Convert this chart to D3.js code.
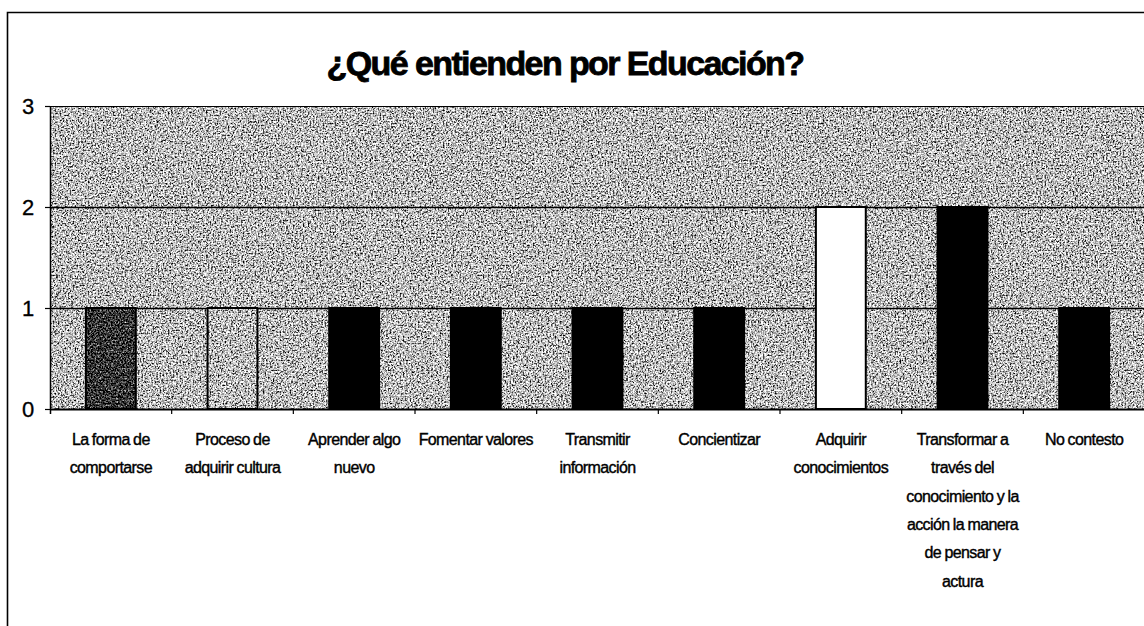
<!DOCTYPE html>
<html>
<head>
<meta charset="utf-8">
<script src="https://cdn.jsdelivr.net/npm/d3@7/dist/d3.min.js"></script>
<style>
  html, body { margin: 0; padding: 0; background: #fff; }
  svg { display: block; }
  text { font-family: "Liberation Sans", Arial, sans-serif; fill: #000; }
</style>
</head>
<body>
<svg id="chart" width="1144" height="626"></svg>
<script>
// ---- data ----
const title = "¿Qué entienden por Educación?";
const categories = [
  ["La forma de", "comportarse"],
  ["Proceso de", "adquirir cultura"],
  ["Aprender algo", "nuevo"],
  ["Fomentar valores"],
  ["Transmitir", "información"],
  ["Concientizar"],
  ["Adquirir", "conocimientos"],
  ["Transformar a", "través del", "conocimiento y la", "acción la manera", "de pensar y", "actura"],
  ["No contesto"]
];
const values = [1, 1, 1, 1, 1, 1, 2, 2, 1];
const yTicks = [0, 1, 2, 3];
// fill style per bar
const barStyles = ["dark", "bg", "black", "black", "speck", "black", "light", "black", "black"];

// ---- layout ----
const svg = d3.select("#chart");
const W = 1144, H = 626;
const plot = { left: 50, right: 1145, top: 106, bottom: 409 };

const defs = svg.append("defs");
function noiseFilter(id, table, freq, seed) {
  const f = defs.append("filter").attr("id", id)
    .attr("x", 0).attr("y", 0).attr("width", 1).attr("height", 1)
    .attr("filterUnits", "objectBoundingBox")
    .attr("color-interpolation-filters", "sRGB");
  f.append("feTurbulence").attr("type", "fractalNoise")
    .attr("baseFrequency", freq).attr("numOctaves", 2).attr("seed", seed).attr("result", "t");
  f.append("feColorMatrix").attr("type", "matrix")
    .attr("values", "1 0 0 0 0  1 0 0 0 0  1 0 0 0 0  0 0 0 0 1").attr("result", "g");
  const ct = f.append("feComponentTransfer").attr("in", "g");
  ["feFuncR", "feFuncG", "feFuncB"].forEach(fn =>
    ct.append(fn).attr("type", "discrete").attr("tableValues", table));
}
noiseFilter("nbg", "0 0 0.25 0.6 0.85 1 1 1", 0.6, 4);
noiseFilter("ndark", "0 0 0 0.2 0.45 0.7 1", 0.6, 7);
noiseFilter("nlight", "0.2 1 1 1 1 1 1 1 1 1 1 1 1 1 1 1 1 1 1 1 1 1 1 1", 0.9, 9);
noiseFilter("nspeck", "0 0 0 0 0 0 0 0 0 0 0 0 0 0 0 0 0 0 0 0 0 0 0 0.85", 0.9, 11);

// outer frame
svg.append("path")
  .attr("d", `M7.5,${H} L7.5,12.5 L${W},12.5`)
  .attr("fill", "none").attr("stroke", "#000").attr("stroke-width", 1.6);

// title
svg.append("text")
  .attr("x", 565).attr("y", 75)
  .attr("text-anchor", "middle")
  .attr("font-size", 34).attr("font-weight", "bold")
  .attr("letter-spacing", -1.6)
  .attr("stroke", "#000").attr("stroke-width", 0.8)
  .text(title);

// scales
const x = d3.scaleBand().domain(d3.range(categories.length))
  .range([plot.left, plot.right]).paddingInner(0).paddingOuter(0);
const y = d3.scaleLinear().domain([0, 3]).range([plot.bottom, plot.top]);

// plot background
svg.append("rect")
  .attr("x", plot.left).attr("y", plot.top)
  .attr("width", plot.right - plot.left).attr("height", plot.bottom - plot.top)
  .attr("fill", "#999").attr("filter", "url(#nbg)");

// gridlines
svg.append("g").selectAll("line").data(yTicks.filter(d => d > 0)).join("line")
  .attr("x1", plot.left).attr("x2", plot.right)
  .attr("y1", d => Math.round(y(d)) + 0.5).attr("y2", d => Math.round(y(d)) + 0.5)
  .attr("stroke", "#000").attr("stroke-width", d => d === 3 ? 1 : 1.5);

// bars
const bw = x.bandwidth() * 0.41;
const fills = { dark: "url(#ndark)", bg: "url(#nbg)", light: "url(#nlight)", speck: "url(#nspeck)" };
const bars = svg.append("g");
values.forEach((v, i) => {
  const bx = x(i) + (x.bandwidth() - bw) / 2;
  const by = y(v), bh = y(0) - y(v);
  const st = barStyles[i];
  if (st !== "black") {
    bars.append("rect").attr("x", bx).attr("y", by).attr("width", bw).attr("height", bh)
      .attr("fill", "#888").attr("filter", fills[st]);
  }
  bars.append("rect").attr("x", bx).attr("y", by).attr("width", bw).attr("height", bh)
    .attr("fill", st === "black" ? "#000" : "none")
    .attr("stroke", "#000").attr("stroke-width", 2);
});

// y axis
const yAxis = svg.append("g");
yAxis.append("line")
  .attr("x1", plot.left + 0.5).attr("x2", plot.left + 0.5)
  .attr("y1", plot.top).attr("y2", plot.bottom + 5)
  .attr("stroke", "#000").attr("stroke-width", 1.5);
yAxis.selectAll("line.tk").data(yTicks).join("line").attr("class", "tk")
  .attr("x1", plot.left - 5).attr("x2", plot.left)
  .attr("y1", d => Math.round(y(d)) + 0.5).attr("y2", d => Math.round(y(d)) + 0.5)
  .attr("stroke", "#000").attr("stroke-width", 1.2);
yAxis.selectAll("text").data(yTicks).join("text")
  .attr("x", 28).attr("y", d => y(d))
  .attr("dy", "0.36em")
  .attr("text-anchor", "middle")
  .attr("font-size", 22)
  .attr("stroke", "#000").attr("stroke-width", 0.3)
  .text(d => d);

// x axis
const xAxis = svg.append("g");
xAxis.append("line")
  .attr("x1", plot.left).attr("x2", plot.right)
  .attr("y1", plot.bottom + 0.5).attr("y2", plot.bottom + 0.5)
  .attr("stroke", "#000").attr("stroke-width", 2);
xAxis.selectAll("line.tk").data(d3.range(1, categories.length)).join("line").attr("class", "tk")
  .attr("x1", d => x(d)).attr("x2", d => x(d))
  .attr("y1", plot.bottom).attr("y2", plot.bottom + 5)
  .attr("stroke", "#000").attr("stroke-width", 1.2);

const lbl = xAxis.selectAll("text").data(categories).join("text")
  .attr("text-anchor", "middle")
  .attr("font-size", 16)
  .attr("letter-spacing", -0.6)
  .attr("word-spacing", -0.5)
  .attr("stroke", "#000").attr("stroke-width", 0.4);
lbl.each(function(lines, i) {
  const t = d3.select(this);
  lines.forEach((ln, k) => {
    t.append("tspan")
      .attr("x", x(i) + x.bandwidth() / 2)
      .attr("y", 445 + k * 28.3)
      .text(ln);
  });
});
</script>
</body>
</html>
